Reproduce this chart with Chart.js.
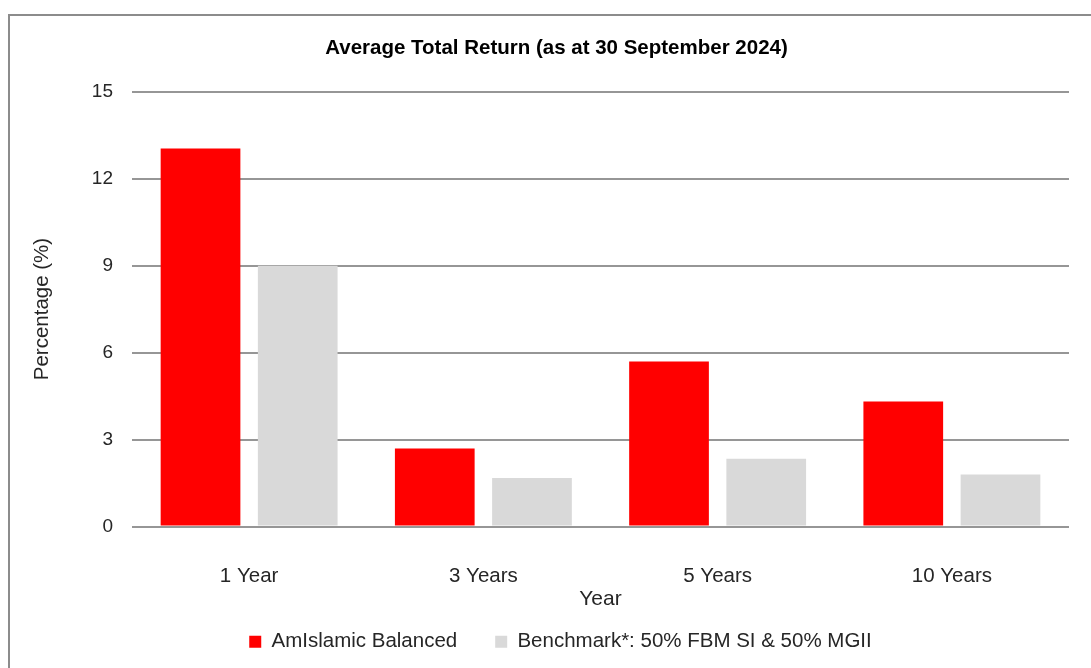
<!DOCTYPE html>
<html>
<head>
<meta charset="utf-8">
<script src="https://cdn.jsdelivr.net/npm/chart.js@4.4.1/dist/chart.umd.min.js"></script>
<style>
  html, body { margin: 0; padding: 0; background: #fff; overflow: hidden; width: 1091px; height: 668px; }
  #frame { position: absolute; left: 8px; top: 14px; width: 1200px; height: 800px; border: 2px solid #8c8c8c; }
  #wrap { position: absolute; left: 10px; top: 16px; width: 1094px; height: 646px; }
</style>
</head>
<body>
<div id="frame"></div>
<div id="wrap"><canvas id="returnChart"></canvas></div>
<script>
// Datos
const periodos = ['1 Year', '3 Years', '5 Years', '10 Years'];
const fondo = [13.04, 2.69, 5.69, 4.31];
const benchmark = [8.99, 1.67, 2.34, 1.79];
const ticksY = [0, 3, 6, 9, 12, 15];

const fuente = "'Liberation Sans', Arial, sans-serif";
const colorTexto = '#262626';

// el titulo y la leyenda del original no estan centrados sobre el area del grafico
const desplazarCajas = {
    id: 'desplazarCajas',
    afterLayout(chart) {
        chart.titleBlock.left += 12;
        chart.titleBlock.right += 12;
        chart.legend.left += 16;
        chart.legend.right += 16;
    }
};

document.addEventListener('DOMContentLoaded', function() {
    const ctx = document.getElementById('returnChart').getContext('2d');

    new Chart(ctx, {
        type: 'bar',
        data: {
            labels: periodos,
            datasets: [
                { label: 'AmIslamic Balanced', data: fondo, backgroundColor: '#ff0000', borderWidth: 0 },
                { label: 'Benchmark*: 50% FBM SI & 50% MGII', data: benchmark, backgroundColor: '#d9d9d9', borderWidth: 0 }
            ]
        },
        plugins: [desplazarCajas],
        options: {
            responsive: true,
            maintainAspectRatio: false,
            animation: false,
            categoryPercentage: 0.83,
            barPercentage: 0.82,
            layout: { padding: { left: 10, right: 35, top: 0, bottom: 0 } },
            plugins: {
                title: {
                    display: true,
                    text: 'Average Total Return (as at 30 September 2024)',
                    color: '#000',
                    font: { family: fuente, size: 20.5, weight: 'bold' },
                    padding: { top: 20, bottom: 31 }
                },
                legend: {
                    position: 'bottom',
                    labels: {
                        color: colorTexto,
                        font: { family: fuente, size: 20.5 },
                        boxWidth: 12,
                        boxHeight: 12,
                        padding: 38
                    }
                },
                tooltip: { enabled: false }
            },
            scales: {
                x: {
                    grid: { display: false, drawTicks: false },
                    border: { display: false },
                    ticks: { color: colorTexto, font: { family: fuente, size: 20.5 }, padding: 38 },
                    title: {
                        display: true, text: 'Year', color: colorTexto,
                        font: { family: fuente, size: 21 },
                        padding: { top: 0, bottom: -18 }
                    },
                    afterFit: function(s) { s.height = 67; }
                },
                y: {
                    min: 0,
                    max: 15,
                    afterBuildTicks: function(s) { s.ticks = ticksY.map(v => ({ value: v })); },
                    grid: { color: '#969696', lineWidth: 2, drawTicks: false },
                    border: { display: false },
                    ticks: { color: colorTexto, font: { family: fuente, size: 19 }, padding: 19 },
                    title: {
                        display: true, text: 'Percentage (%)', color: colorTexto,
                        font: { family: fuente, size: 20.5 },
                        padding: { top: 10, bottom: 0 }
                    },
                    afterFit: function(s) { s.width = 112; }
                }
            }
        }
    });
});
</script>
</body>
</html>
